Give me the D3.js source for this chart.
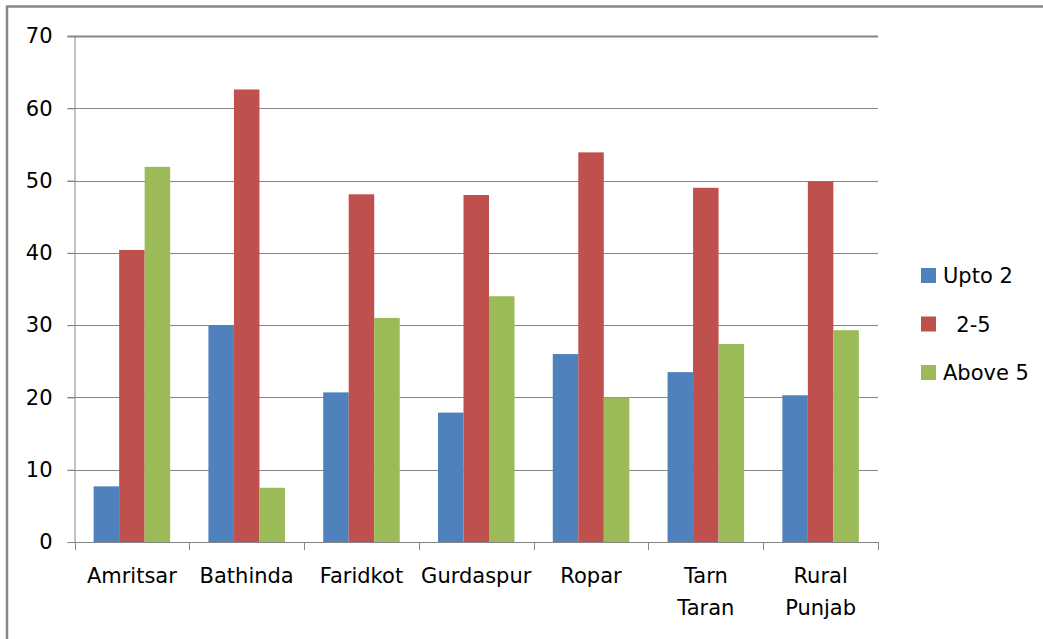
<!DOCTYPE html>
<html>
<head>
<meta charset="utf-8">
<script src="https://cdn.jsdelivr.net/npm/d3@7"></script>
<style>
  html, body { margin: 0; padding: 0; background: #fff; }
  svg { display: block; }
  text { font-family: "DejaVu Sans", sans-serif; fill: #000; }
</style>
</head>
<body>
<svg id="chart" width="1043" height="639"></svg>
<script>
// Land holding share (%) by district
const categories = ["Amritsar", "Bathinda", "Faridkot", "Gurdaspur", "Ropar", "Tarn Taran", "Rural Punjab"];
const seriesNames = ["Upto 2", "2-5", "Above 5"];
const legendLabels = ["Upto 2", "  2-5", "Above 5"];
const upto2   = [7.7, 30.0, 20.7, 17.9, 26.0, 23.5, 20.3];
const twoToFive = [40.4, 62.6, 48.1, 48.0, 53.9, 49.0, 49.9];
const above5  = [51.9, 7.5, 31.0, 34.0, 20.0, 27.4, 29.3];
const yTicks = [0, 10, 20, 30, 40, 50, 60, 70];
const colors = ["#4F81BD", "#C0504D", "#9BBB59"];

const seriesValues = [upto2, twoToFive, above5];
const rows = categories.map((c, i) => ({
  category: c,
  values: seriesNames.map((s, j) => ({ key: s, value: seriesValues[j][i] }))
}));

const svg = d3.select("#chart");
const plot = { left: 74.5, right: 878, top: 36, bottom: 542 };
const gridColor = "#868686";

// outer frame (left and top edges)
svg.append("path")
  .attr("d", `M7,639 V6.5 H1043`)
  .attr("fill", "none")
  .attr("stroke", gridColor)
  .attr("stroke-width", 2.5);

const x0 = d3.scaleBand().domain(categories).range([plot.left, plot.right]).padding(0);
const x1 = d3.scaleBand().domain(seriesNames).range([0, x0.bandwidth()])
  .paddingInner(0).paddingOuter(0.75);
const y = d3.scaleLinear().domain([0, 70]).range([plot.bottom, plot.top]);
const color = d3.scaleOrdinal().domain(seriesNames).range(colors);

// horizontal gridlines
svg.append("g")
  .selectAll("line")
  .data(yTicks.filter(t => t > 0))
  .join("line")
  .attr("x1", plot.left - 7).attr("x2", plot.right)
  .attr("y1", d => Math.round(y(d)) + 0.5).attr("y2", d => Math.round(y(d)) + 0.5)
  .attr("stroke", gridColor)
  .attr("stroke-width", d => d === 70 ? 2 : 1);

// bars
svg.append("g")
  .selectAll("g")
  .data(rows)
  .join("g")
  .attr("transform", d => `translate(${x0(d.category)},0)`)
  .selectAll("rect")
  .data(d => d.values)
  .join("rect")
  .attr("x", d => x1(d.key))
  .attr("width", x1.bandwidth())
  .attr("y", d => y(d.value))
  .attr("height", d => y(0) - y(d.value))
  .attr("fill", d => color(d.key));

// y axis
const yAxis = svg.append("g")
  .attr("transform", `translate(${plot.left},0)`)
  .call(d3.axisLeft(y).tickValues(yTicks).tickSize(7).tickPadding(15).tickFormat(d3.format("d")));
yAxis.select(".domain").attr("stroke", gridColor).attr("d", `M0.5,${plot.top}V${plot.bottom}`);
yAxis.selectAll(".tick line").attr("stroke", gridColor);
yAxis.selectAll(".tick text")
  .style("font-family", "'DejaVu Sans', sans-serif")
  .attr("font-size", 21)
  .attr("fill", "#000");

// x axis baseline and category boundary ticks
const xg = svg.append("g");
xg.append("line")
  .attr("x1", plot.left - 7).attr("x2", plot.right)
  .attr("y1", plot.bottom + 0.5).attr("y2", plot.bottom + 0.5)
  .attr("stroke", gridColor);
const boundaries = categories.map(c => x0(c)).concat([x0.range()[1]]);
xg.selectAll("line.tick")
  .data(boundaries)
  .join("line")
  .attr("class", "tick")
  .attr("x1", d => Math.round(d) + 0.5).attr("x2", d => Math.round(d) + 0.5)
  .attr("y1", plot.bottom).attr("y2", plot.bottom + 8)
  .attr("stroke", gridColor);

// category labels, wrapped on spaces
const labels = xg.selectAll("text.cat")
  .data(categories)
  .join("text")
  .attr("class", "cat")
  .attr("text-anchor", "middle")
  .attr("font-size", 21)
  .attr("x", d => x0(d) + x0.bandwidth() / 2)
  .attr("y", 583);
labels.each(function(d) {
  const words = d.split(" ");
  const t = d3.select(this);
  words.forEach((w, i) => {
    t.append("tspan")
      .attr("x", x0(d) + x0.bandwidth() / 2)
      .attr("dy", i === 0 ? 0 : 32)
      .text(w);
  });
});

// legend
const legend = svg.append("g").attr("transform", "translate(921,268)");
const items = legend.selectAll("g")
  .data(seriesNames)
  .join("g")
  .attr("transform", (d, i) => `translate(0,${i * 48.5})`);
items.append("rect")
  .attr("width", 15).attr("height", 15)
  .attr("fill", d => color(d));
items.append("text")
  .attr("x", 22).attr("y", 15)
  .attr("font-size", 21)
  .style("white-space", "pre")
  .attr("xml:space", "preserve")
  .text((d, i) => legendLabels[i]);
</script>
</body>
</html>
